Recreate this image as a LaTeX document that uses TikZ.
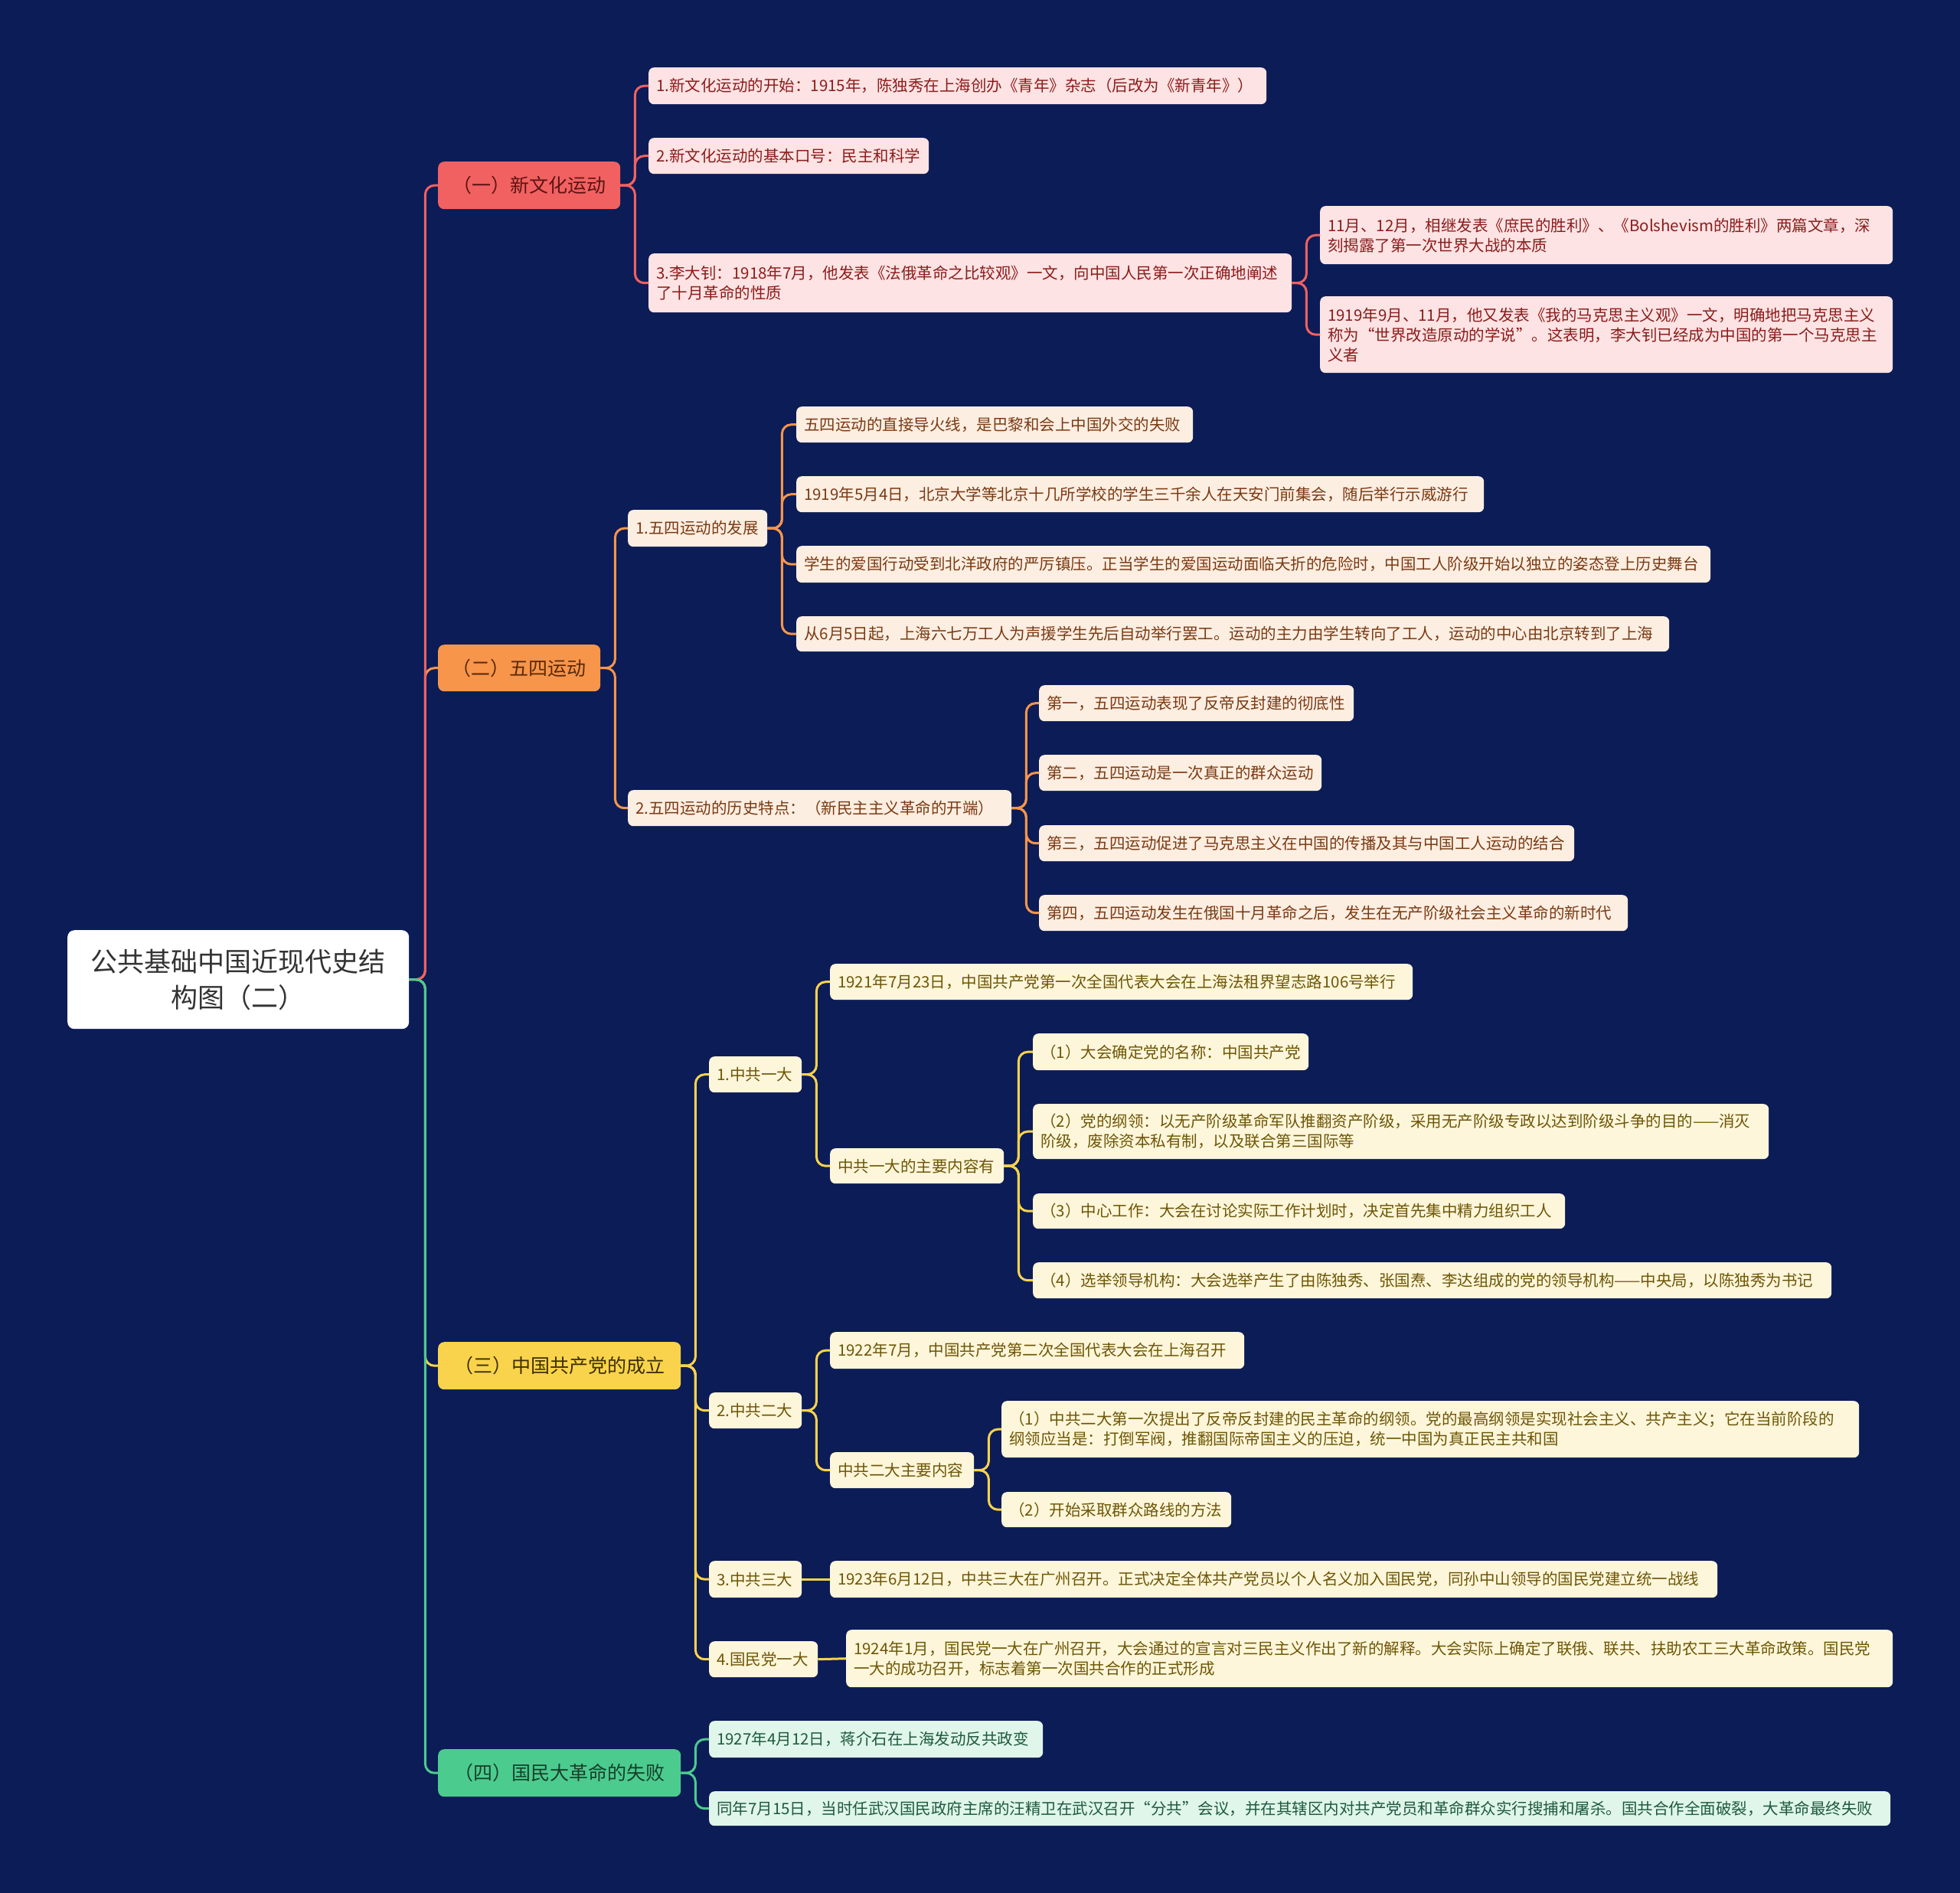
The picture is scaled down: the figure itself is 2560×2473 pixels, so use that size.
\documentclass[tikz,border=0pt]{standalone}
\usepackage{fontspec}
\setmainfont{Noto Sans CJK SC}
\definecolor{bg}{HTML}{0C1C56}
\definecolor{rcol}{HTML}{F26161}
\definecolor{ocol}{HTML}{F7954B}
\definecolor{ycol}{HTML}{F9D34C}
\definecolor{gcol}{HTML}{4CCB8E}
\definecolor{rfill}{HTML}{FDE3E3}
\definecolor{ofill}{HTML}{FDEEE2}
\definecolor{yfill}{HTML}{FDF6DA}
\definecolor{gfill}{HTML}{E0F6EB}
\definecolor{rtext}{HTML}{8B1C1C}
\definecolor{otext}{HTML}{7A3A12}
\definecolor{ytext}{HTML}{6E5606}
\definecolor{gtext}{HTML}{1E5A3C}
\definecolor{rhead}{HTML}{5C1414}
\definecolor{ohead}{HTML}{5A2A08}
\definecolor{yhead}{HTML}{3D3000}
\definecolor{ghead}{HTML}{173F2A}
\begin{document}
\begin{tikzpicture}[x=1pt,y=-1pt,
  box/.style={rounded corners=7pt, inner xsep=10pt, inner ysep=0pt, anchor=north west, align=left, font=\fontsize{20.5}{26}\selectfont},
  rl/.style={box, fill=rfill, text=rtext},
  ol/.style={box, fill=ofill, text=otext},
  yl/.style={box, fill=yfill, text=ytext},
  gl/.style={box, fill=gfill, text=gtext},
  head/.style={rounded corners=8pt, inner sep=0pt, anchor=north west, align=center, font=\fontsize{25}{30}\selectfont},
  rootbox/.style={rounded corners=9pt, inner sep=0pt, anchor=north west, align=center, fill=white, text=black!80, font=\fontsize{35}{47}\selectfont},
  conn/.style={line width=3pt, rounded corners=12pt},
  rline/.style={conn, draw=rcol},
  oline/.style={conn, draw=ocol},
  yline/.style={conn, draw=ycol},
  gline/.style={conn, draw=gcol}
]
\fill[bg] (0,0) rectangle (2560,2473);
\useasboundingbox (0,0) rectangle (2560,2473);

% root
\node[rootbox, minimum width=446pt, minimum height=129pt, text width=426pt] (root) at (88,1215) {公共基础中国近现代史结\\构图（二）};

% level 1
\node[head, fill=rcol, text=rhead, minimum width=238pt, minimum height=62pt] (L1a) at (572,211) {（一）新文化运动};
\node[head, fill=ocol, text=ohead, minimum width=212pt, minimum height=61pt] (L1b) at (572,842) {（二）五四运动};
\node[head, fill=ycol, text=yhead, minimum width=317pt, minimum height=62pt] (L1c) at (572,1753) {（三）中国共产党的成立};
\node[head, fill=gcol, text=ghead, minimum width=317pt, minimum height=62pt] (L1d) at (572,2285) {（四）国民大革命的失败};

% red branch
\node[rl, text width=787pt, minimum height=48pt] (A1) at (847,88) {1.新文化运动的开始：1915年，陈独秀在上海创办《青年》杂志（后改为《新青年》）};
\node[rl, text width=346pt, minimum height=47pt] (A2) at (847,180) {2.新文化运动的基本口号：民主和科学};
\node[rl, text width=820pt, minimum height=77pt] (A3) at (847,331) {3.李大钊：1918年7月，他发表《法俄革命之比较观》一文，向中国人民第一次正确地阐述\\了十月革命的性质};
\node[rl, text width=728pt, minimum height=76pt] (A3a) at (1724,269) {11月、12月，相继发表《庶民的胜利》、《Bolshevism的胜利》两篇文章，深\\刻揭露了第一次世界大战的本质};
\node[rl, text width=728pt, minimum height=100pt] (A3b) at (1724,387) {1919年9月、11月，他又发表《我的马克思主义观》一文，明确地把马克思主义\\称为“世界改造原动的学说”。这表明，李大钊已经成为中国的第一个马克思主\\义者};

% orange branch
\node[ol, text width=162pt, minimum height=48pt] (B1) at (820,666) {1.五四运动的发展};
\node[ol, text width=498pt, minimum height=47pt] (B1a) at (1040,531) {五四运动的直接导火线，是巴黎和会上中国外交的失败};
\node[ol, text width=878pt, minimum height=47pt] (B1b) at (1040,622) {1919年5月4日，北京大学等北京十几所学校的学生三千余人在天安门前集会，随后举行示威游行};
\node[ol, text width=1174pt, minimum height=48pt] (B1c) at (1040,713) {学生的爱国行动受到北洋政府的严厉镇压。正当学生的爱国运动面临夭折的危险时，中国工人阶级开始以独立的姿态登上历史舞台};
\node[ol, text width=1120pt, minimum height=46pt] (B1d) at (1040,805) {从6月5日起，上海六七万工人为声援学生先后自动举行罢工。运动的主力由学生转向了工人，运动的中心由北京转到了上海};
\node[ol, text width=481pt, minimum height=47pt] (B2) at (820,1032) {2.五四运动的历史特点：（新民主主义革命的开端）};
\node[ol, text width=391pt, minimum height=47pt] (B2a) at (1357,895) {第一，五四运动表现了反帝反封建的彻底性};
\node[ol, text width=349pt, minimum height=47pt] (B2b) at (1357,986) {第二，五四运动是一次真正的群众运动};
\node[ol, text width=679pt, minimum height=47pt] (B2c) at (1357,1078) {第三，五四运动促进了马克思主义在中国的传播及其与中国工人运动的结合};
\node[ol, text width=749pt, minimum height=47pt] (B2d) at (1357,1169) {第四，五四运动发生在俄国十月革命之后，发生在无产阶级社会主义革命的新时代};

% yellow branch
\node[yl, text width=101pt, minimum height=47pt] (C1) at (926,1380) {1.中共一大};
\node[yl, text width=741pt, minimum height=47pt] (C1a) at (1084,1259) {1921年7月23日，中国共产党第一次全国代表大会在上海法租界望志路106号举行};
\node[yl, text width=207pt, minimum height=46pt] (C1b) at (1084,1500) {中共一大的主要内容有};
\node[yl, text width=340pt, minimum height=48pt] (C1b1) at (1349,1350) {（1）大会确定党的名称：中国共产党};
\node[yl, text width=941pt, minimum height=72pt] (C1b2) at (1349,1442) {（2）党的纲领：以无产阶级革命军队推翻资产阶级，采用无产阶级专政以达到阶级斗争的目的——消灭\\阶级，废除资本私有制，以及联合第三国际等};
\node[yl, text width=675pt, minimum height=46pt] (C1b3) at (1349,1559) {（3）中心工作：大会在讨论实际工作计划时，决定首先集中精力组织工人};
\node[yl, text width=1023pt, minimum height=47pt] (C1b4) at (1349,1649) {（4）选举领导机构：大会选举产生了由陈独秀、张国焘、李达组成的党的领导机构——中央局，以陈独秀为书记};
\node[yl, text width=101pt, minimum height=47pt] (C2) at (926,1819) {2.中共二大};
\node[yl, text width=521pt, minimum height=48pt] (C2a) at (1084,1740) {1922年7月，中国共产党第二次全国代表大会在上海召开};
\node[yl, text width=168pt, minimum height=47pt] (C2b) at (1084,1897) {中共二大主要内容};
\node[yl, text width=1100pt, minimum height=74pt] (C2b1) at (1308,1830) {（1）中共二大第一次提出了反帝反封建的民主革命的纲领。党的最高纲领是实现社会主义、共产主义；它在当前阶段的\\纲领应当是：打倒军阀，推翻国际帝国主义的压迫，统一中国为真正民主共和国};
\node[yl, text width=280pt, minimum height=46pt] (C2b2) at (1308,1949) {（2）开始采取群众路线的方法};
\node[yl, text width=101pt, minimum height=48pt] (C3) at (926,2039) {3.中共三大};
\node[yl, text width=1139pt, minimum height=48pt] (C3a) at (1084,2039) {1923年6月12日，中共三大在广州召开。正式决定全体共产党员以个人名义加入国民党，同孙中山领导的国民党建立统一战线};
\node[yl, text width=122pt, minimum height=47pt] (C4) at (926,2144) {4.国民党一大};
\node[yl, text width=1347pt, minimum height=75pt] (C4a) at (1105,2129) {1924年1月，国民党一大在广州召开，大会通过的宣言对三民主义作出了新的解释。大会实际上确定了联俄、联共、扶助农工三大革命政策。国民党\\一大的成功召开，标志着第一次国共合作的正式形成};

% green branch
\node[gl, text width=416pt, minimum height=48pt] (D1) at (926,2248) {1927年4月12日，蒋介石在上海发动反共政变};
\node[gl, text width=1523pt, minimum height=45pt] (D2) at (926,2340) {同年7月15日，当时任武汉国民政府主席的汪精卫在武汉召开“分共”会议，并在其辖区内对共产党员和革命群众实行搜捕和屠杀。国共合作全面破裂，大革命最终失败};

% root connectors
\draw[oline] (root.east) -- ++(21,0) |- (L1b.west);
\draw[yline] (root.east) -- ++(21,0) |- (L1c.west);
\draw[rline] (root.east) -- ++(21,0) |- (L1a.west);
\draw[gline] (root.east) -- ++(21,0) |- (L1d.west);

% red
\foreach \c in {A1,A2,A3} \draw[rline] (L1a.east) -- ++(19,0) |- (\c.west);
\foreach \c in {A3a,A3b} \draw[rline] (A3.east) -- ++(19,0) |- (\c.west);

% orange
\foreach \c in {B1,B2} \draw[oline] (L1b.east) -- ++(19,0) |- (\c.west);
\foreach \c in {B1a,B1b,B1c,B1d} \draw[oline] (B1.east) -- ++(19,0) |- (\c.west);
\foreach \c in {B2a,B2b,B2c,B2d} \draw[oline] (B2.east) -- ++(19,0) |- (\c.west);

% yellow
\foreach \c in {C1,C2,C3,C4} \draw[yline] (L1c.east) -- ++(19,0) |- (\c.west);
\foreach \c in {C1a,C1b} \draw[yline] (C1.east) -- ++(19,0) |- (\c.west);
\foreach \c in {C1b1,C1b2,C1b3,C1b4} \draw[yline] (C1b.east) -- ++(19,0) |- (\c.west);
\foreach \c in {C2a,C2b} \draw[yline] (C2.east) -- ++(19,0) |- (\c.west);
\foreach \c in {C2b1,C2b2} \draw[yline] (C2b.east) -- ++(19,0) |- (\c.west);
\draw[yline] (C3.east) -- (C3a.west);
\draw[yline] (C4.east) -- (C4a.west);

% green
\foreach \c in {D1,D2} \draw[gline] (L1d.east) -- ++(19,0) |- (\c.west);
\end{tikzpicture}
\end{document}
